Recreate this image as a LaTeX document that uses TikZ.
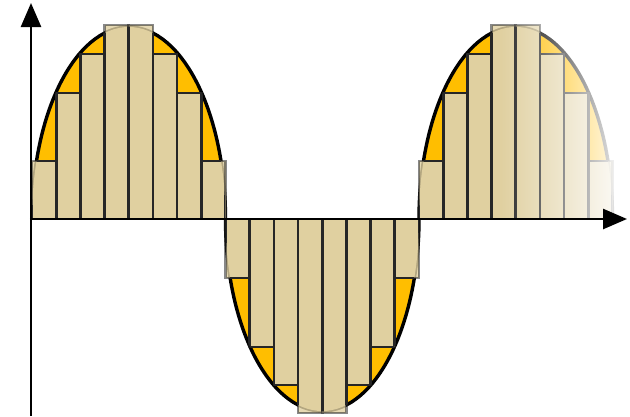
\documentclass[tikz,border=0pt]{standalone}
\usetikzlibrary{arrows.meta, fadings}
\definecolor{sampletan}{RGB}{224,208,160}
\definecolor{signalamber}{RGB}{255,190,0}
\tikzfading[name=fadeinright, left color=transparent!100, right color=transparent!0]
\tikzset{
  samplebar/.style={fill=sampletan, draw=black!85, line width=2.7pt},
  signalcurve/.style={line width=3.4pt, draw=black},
  axisline/.style={line width=2.6pt, -{Triangle[length=24pt,width=20pt]}},
  sigwave/.style={insert path={(0,0)
    arc[start angle=180, end angle=0, x radius=96.75, y radius=192]
    arc[start angle=180, end angle=360, x radius=96.75, y radius=192]
    arc[start angle=180, end angle=0, x radius=96.75, y radius=192]}}
}
\newcommand{\samplebars}{%
  \foreach \h [count=\i from 0] in {58,126,165,194,194,165,126,58,
      -59,-128,-166,-194,-194,-166,-128,-59,
      58,126,165,194,194,165,126,58} {
    \draw[samplebar] (\i*24.1875,0) rectangle ++(24.1875,\h);
  }}

\begin{document}
\begin{tikzpicture}[x=1pt, y=1pt]
  \useasboundingbox (-32,-197) rectangle (598,219);
  \coordinate (origin) at (0,0);
  \coordinate (ybase) at (-1,-197);
  \coordinate (ytip) at (-1,216);
  \coordinate (xstart) at (-2,0);
  \coordinate (xtip) at (595,0);
  % area under the signal
  \fill[signalamber, sigwave];
  \draw[signalcurve, sigwave];
  % held samples, see-through outside the signal
  \begin{scope}[fill opacity=0.8, draw opacity=0.55]
    \samplebars
  \end{scope}
  \begin{scope}
    \clip[sigwave];
    \samplebars
  \end{scope}
  % fade out to the right
  \fill[white, path fading=fadeinright] (468,-197) rectangle (598,219);
  \draw[axisline] (ybase) -- (ytip);
  \draw[axisline] (xstart) -- (xtip);
\end{tikzpicture}
\end{document}
